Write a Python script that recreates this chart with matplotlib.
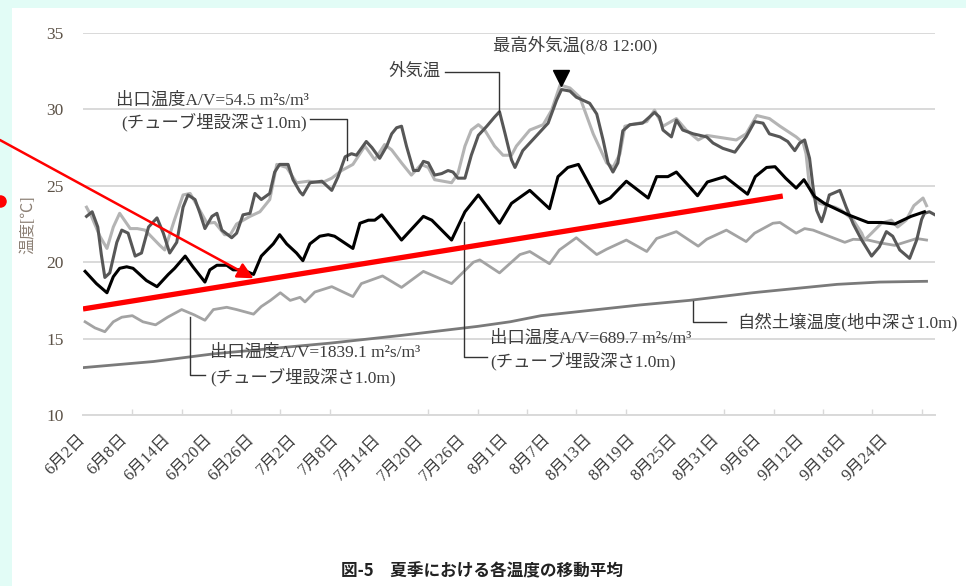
"""
夏季における各温度の移動平均 (図-5) の再現。
x は 6/2 からの経過日数、y は温度[℃]。
"""

import matplotlib
matplotlib.use("Agg")
import matplotlib.pyplot as plt
from matplotlib.lines import Line2D
from matplotlib.patches import Rectangle
from matplotlib.ticker import MultipleLocator

plt.rcParams["font.family"] = ["Liberation Serif", "Noto Sans CJK JP"]

# --- data (days since 6/2, °C) ---
# 外気温
oa_day = [0.5, 1.3, 2.1, 2.6, 3.1, 3.8, 4.8, 5.5, 6.4, 7.4, 8.3, 9.3, 10.5, 11.4, 12.3,
          13.3, 14.2, 14.9, 15.9, 16.6, 17.3, 18.3, 19.0, 19.7, 21.1, 21.8, 22.7, 23.7,
          24.4, 25.3, 26.5, 27.2, 27.9, 29.1, 29.8, 30.8, 31.2, 32.2, 33.9, 35.3, 36.2,
          37.2, 38.1, 38.8, 40.2, 41.0, 42.1, 43.1, 43.8, 44.5, 45.2, 45.9, 46.9, 47.6,
          48.3, 49.0, 49.9, 50.9, 51.8, 52.5, 53.2, 54.2, 55.1, 56.1, 57.3, 58.4, 59.1,
          59.9, 60.8, 61.3, 62.4, 63.8, 66.0, 67.2, 67.9, 69.1, 70.0, 71.9, 72.9, 73.8,
          74.5, 75.2, 75.9, 76.6, 77.6, 79.4, 81.1, 81.8, 82.3, 83.5, 84.2, 85.1, 86.6,
          88.5, 89.4, 90.8, 92.5, 94.1, 95.3, 96.5, 97.4, 98.9, 100.0, 101.0, 101.7,
          102.4, 103.1, 103.6, 104.1, 104.8, 105.2, 105.9, 107.4, 108.3, 109.3, 110.5,
          111.9, 113.0, 114.0, 114.9, 115.9, 117.3, 118.3, 119.0, 119.4, 120.1, 120.9]
oa_temp = [23.0, 23.3, 22.3, 20.5, 19.0, 19.3, 21.3, 22.1, 21.9, 20.4, 20.6, 22.3, 22.9,
           21.9, 20.6, 21.3, 23.6, 24.4, 24.1, 23.2, 22.2, 23.0, 23.2, 22.1, 21.6, 21.9,
           23.1, 23.2, 24.5, 24.1, 24.5, 25.9, 26.4, 26.4, 25.4, 24.6, 24.4, 25.2, 25.3,
           24.7, 25.6, 26.9, 27.1, 27.0, 27.9, 27.5, 26.8, 27.6, 28.4, 28.8, 28.9, 27.6,
           26.0, 26.0, 26.6, 26.5, 25.7, 25.8, 26.0, 25.9, 25.5, 25.5, 27.0, 28.3, 28.9,
           29.5, 29.85, 28.4, 26.7, 26.2, 27.3, 28.0, 29.1, 30.6, 31.3, 31.2, 30.8, 30.4,
           29.7, 28.0, 26.5, 25.9, 26.5, 28.6, 29.0, 29.1, 29.8, 29.5, 28.65, 28.2, 29.3,
           28.65, 28.4, 28.2, 27.8, 27.45, 27.2, 28.2, 29.2, 29.1, 28.4, 28.2, 27.9, 27.3,
           27.8, 28.0, 26.8, 24.9, 23.4, 22.65, 23.2, 24.4, 24.7, 23.6, 22.5, 21.45, 20.4,
           21.0, 22.0, 21.7, 20.8, 20.25, 21.45, 22.8, 23.2, 23.3, 23.1]

# 出口温度 A/V=54.5
av54_day = [0.5, 1.2, 2.4, 3.4, 4.3, 5.2, 6.7, 7.7, 8.8, 10.9, 11.6, 13.0, 14.2, 15.2,
            16.2, 17.6, 18.7, 20.1, 20.9, 21.8, 23.7, 25.1, 26.5, 27.5, 28.9, 30.3, 32.0,
            33.9, 35.3, 36.7, 38.3, 40.0, 41.4, 42.8, 43.8, 45.2, 46.6, 48.0, 49.0, 49.9,
            52.3, 53.2, 54.2, 55.1, 56.1, 57.0, 58.4, 59.6, 60.8, 61.5, 63.4, 65.3, 66.5,
            67.7, 69.1, 70.5, 72.4, 74.3, 75.2, 76.2, 76.9, 77.8, 80.0, 81.1, 82.3, 84.2,
            85.6, 87.3, 88.5, 91.3, 92.7, 94.1, 95.6, 97.4, 98.9, 101.2, 102.2, 102.6,
            103.1, 103.6, 104.5, 106.7, 107.6, 109.3, 110.5, 110.9, 111.9, 113.3, 114.7,
            115.6, 116.8, 117.9, 119.2, 119.7]
av54_temp = [23.6, 23.0, 21.7, 20.9, 22.3, 23.2, 22.2, 22.2, 22.1, 21.1, 20.8, 22.8, 24.4,
             24.5, 23.7, 22.55, 22.6, 21.8, 21.8, 22.5, 23.0, 23.3, 24.1, 26.4, 26.2, 25.2,
             25.3, 25.2, 25.5, 26.0, 26.4, 27.6, 26.7, 27.7, 27.35, 26.5, 25.7, 26.4, 26.2,
             25.4, 25.2, 25.8, 27.6, 28.65, 29.0, 28.65, 27.6, 27.0, 27.0, 27.6, 28.65,
             29.0, 29.95, 31.6, 31.4, 30.8, 28.4, 26.5, 26.2, 27.1, 28.9, 29.0, 29.2, 29.95,
             28.9, 29.4, 28.65, 28.0, 28.3, 28.1, 28.0, 28.4, 29.6, 29.4, 28.9, 28.2, 27.8,
             27.1, 24.9, 24.3, 23.85, 23.6, 23.4, 22.75, 21.9, 21.45, 21.9, 22.55, 22.75,
             22.3, 22.75, 23.7, 24.2, 23.7]

# 出口温度 A/V=689.7
av689_day = [0.3, 1.9, 3.4, 4.3, 5.2, 6.2, 7.1, 9.0, 10.5, 12.1, 13.0, 14.5, 15.6, 17.3,
             18.0, 19.0, 20.4, 21.3, 22.7, 24.2, 25.3, 27.0, 27.9, 28.9, 30.3, 31.2, 32.2,
             33.6, 34.8, 35.7, 38.3, 39.3, 40.5, 41.4, 42.4, 45.2, 48.3, 49.5, 52.3, 54.2,
             56.1, 59.1, 60.8, 63.4, 66.2, 67.4, 68.8, 70.3, 73.3, 74.8, 77.1, 80.2, 81.4,
             83.0, 84.2, 87.2, 88.6, 91.1, 94.3, 95.4, 97.0, 98.2, 99.7, 101.2, 102.3,
             103.8, 105.2, 108.6, 111.4, 113.3, 115.2, 117.5, 119.4]
av689_temp = [19.4, 18.6, 18.0, 19.05, 19.6, 19.7, 19.6, 18.8, 18.4, 19.2, 19.6, 20.4,
              19.7, 18.7, 19.5, 19.8, 19.8, 19.5, 19.5, 19.2, 20.4, 21.2, 21.8, 21.2, 20.6,
              20.1, 21.2, 21.7, 21.8, 21.7, 20.9, 22.55, 22.75, 22.75, 23.1, 21.45, 23.0,
              22.75, 21.45, 23.3, 24.4, 22.55, 23.85, 24.7, 23.5, 25.6, 26.2, 26.4, 23.85,
              24.2, 25.3, 24.2, 25.6, 25.6, 25.9, 24.35, 25.25, 25.6, 24.45, 25.6, 26.2,
              26.25, 25.5, 24.85, 25.4, 24.3, 23.85, 23.1, 22.6, 22.6, 22.5, 23.0, 23.3]

# 出口温度 A/V=1839.1
av1839_day = [0.3, 1.7, 3.1, 4.3, 5.5, 7.0, 8.5, 10.3, 12.0, 14.0, 15.8, 17.3, 18.5, 20.4,
              21.8, 24.2, 25.3, 26.6, 28.0, 29.4, 30.8, 31.5, 32.9, 35.3, 38.3, 39.5, 42.5,
              45.2, 48.3, 52.3, 55.4, 56.3, 59.1, 62.0, 63.4, 66.2, 67.6, 70.0, 72.9, 74.3,
              77.1, 80.0, 81.4, 84.2, 87.3, 88.5, 91.3, 94.1, 95.3, 97.9, 98.9, 101.2, 102.4,
              103.6, 108.1, 109.3, 111.4, 113.3, 115.2, 118.3, 119.7]
av1839_temp = [16.1, 15.7, 15.45, 16.1, 16.4, 16.5, 16.1, 15.9, 16.4, 16.9, 16.55, 16.2,
               16.9, 17.05, 16.9, 16.6, 17.1, 17.5, 18.0, 17.5, 17.7, 17.4, 18.05, 18.4,
               17.75, 18.6, 19.1, 18.35, 19.4, 18.6, 20.0, 20.15, 19.3, 20.5, 20.7, 19.9,
               20.8, 21.6, 20.5, 20.85, 21.45, 20.7, 21.55, 22.0, 21.05, 21.5, 22.1, 21.35,
               21.9, 22.55, 22.6, 21.9, 22.2, 22.1, 21.3, 21.5, 21.45, 21.25, 21.1, 21.55,
               21.45]

# 自然土壌温度
soil_day = [0.0, 10.0, 18.5, 35.0, 45.0, 56.0, 60.6, 65.0, 79.0, 86.0, 95.0, 107.0, 113.0,
            119.7]
soil_temp = [13.1, 13.5, 14.0, 14.7, 15.2, 15.8, 16.1, 16.5, 17.2, 17.5, 18.0, 18.55,
             18.7, 18.75]

# x tick labels (every 6 days from 6/2)
label_days = [0, 6, 12, 18, 24, 30, 36, 42, 48, 54, 60, 66, 72, 78, 84, 90, 96, 102, 108, 114]
label_text = ["6月2日", "6月8日", "6月14日", "6月20日", "6月26日", "7月2日", "7月8日",
              "7月14日", "7月20日", "7月26日", "8月1日", "8月7日", "8月13日", "8月19日",
              "8月25日", "8月31日", "9月6日", "9月12日", "9月18日", "9月24日"]

# max outdoor temperature marker (8/8 12:00)
peak_day = 67.8
peak_temp = 32.05

# red overlay: trend line and arrow
trend_day = [0.0, 99.3]
trend_temp = [16.94, 24.33]
arrow_tail = (-11.8, 28.0)
arrow_head = (24.2, 18.95)

W, H = 966, 586
TXT = "#3d3d3d"
GRID = "#d9d9d9"

fig = plt.figure(figsize=(W / 100, H / 100), dpi=100, facecolor="#e2fcf6")
fig.patches.append(Rectangle((12 / W, 0), 1, 1 - 8 / H, transform=fig.transFigure,
                             facecolor="white", edgecolor="none", zorder=-5))

ax = fig.add_axes([83 / W, 1 - 415 / H, (935 - 83) / W, (415 - 33) / H])
ax.set_facecolor("white")

ax.plot(soil_day, soil_temp, color="#7a7a7a", lw=2.0, zorder=3)
ax.plot(av1839_day, av1839_temp, color="#a3a3a3", lw=2.0, zorder=3)
ax.plot(av54_day, av54_temp, color="#b4b4b4", lw=2.2, zorder=4)
ax.plot(oa_day, oa_temp, color="#575757", lw=2.2, zorder=5)
ax.plot(av689_day, av689_temp, color="black", lw=2.2, zorder=6)

ax.plot([peak_day], [peak_temp], marker="v", color="black", ms=11, zorder=7, clip_on=False)

ax.set_xlim(0, 120.9)
ax.set_ylim(10, 35)
ax.yaxis.set_major_locator(MultipleLocator(5))
ax.grid(axis="y", color=GRID, lw=1.4, zorder=1)
ax.set_axisbelow(True)
for s in ["top", "right", "left"]:
    ax.spines[s].set_visible(False)
ax.spines["bottom"].set_color(GRID)
ax.spines["bottom"].set_linewidth(1.4)

ax.set_xticks(label_days)
ax.set_xticklabels(label_text, rotation=45, ha="right", va="center",
                   rotation_mode="anchor", fontsize=12, color=TXT)
ax.xaxis.set_minor_locator(MultipleLocator(7))
ax.tick_params(axis="x", which="major", length=0, pad=16)
ax.tick_params(axis="x", which="minor", direction="in", length=4, width=1, color=GRID)
ax.tick_params(axis="y", length=0, pad=14, labelsize=12.5, labelcolor="#5c5247")

fig.text(28 / W, 1 - 225 / H, "温度[℃]", rotation=90, ha="center", va="center",
         fontsize=11.5, color="#8c8075")

# annotations and leader lines
kw = dict(fontsize=12.5, color=TXT, zorder=8)
lk = dict(color="#333333", lw=1.0, zorder=8)

ax.text(18.4, 30.6, "出口温度A/V=54.5 m²s/m³", ha="center", va="center", **kw)
ax.text(31.8, 29.2, "(チューブ埋設深さ1.0m)", ha="right", va="center", **kw)
ax.plot([32.2, 37.4, 37.4], [29.4, 29.4, 26.7], **lk)

ax.text(50.8, 32.45, "外気温", ha="right", va="center", **kw)
ax.plot([51.3, 59.1, 59.1], [32.45, 32.45, 29.8], **lk)

ax.text(69.8, 34.2, "最高外気温(8/8 12:00)", ha="center", va="center", **kw)

ax.text(18.0, 14.1, "出口温度A/V=1839.1 m²s/m³", ha="left", va="center", **kw)
ax.text(18.0, 12.5, "(チューブ埋設深さ1.0m)", ha="left", va="center", **kw)
ax.plot([15.2, 15.2, 17.3], [16.4, 12.6, 12.6], **lk)

ax.text(57.8, 15.0, "出口温度A/V=689.7 m²s/m³", ha="left", va="center", **kw)
ax.text(57.8, 13.55, "(チューブ埋設深さ1.0m)", ha="left", va="center", **kw)
ax.plot([54.0, 54.0, 57.3], [22.65, 13.8, 13.8], **lk)

ax.text(92.8, 16.1, "自然土壌温度(地中深さ1.0m)", ha="left", va="center",
        clip_on=False, **kw)
ax.plot([86.5, 86.5, 91.3], [17.45, 16.1, 16.1], **lk)

# red overlay
ax.plot(trend_day, trend_temp, color="#ff0000", lw=3.8, zorder=9, solid_capstyle="butt")
ax.annotate("", xy=arrow_head, xytext=arrow_tail, xycoords="data", textcoords="data",
            annotation_clip=False, zorder=9,
            arrowprops=dict(arrowstyle="-|>", color="#ff0000", lw=1.8, mutation_scale=24,
                            shrinkA=0, shrinkB=0))
fig.add_artist(Line2D([0], [1 - 201 / H], marker="o", ms=8, color="#ff0000",
                      transform=fig.transFigure, clip_on=False))

fig.text(482 / W, 1 - 571 / H, "図-5　夏季における各温度の移動平均", ha="center",
         va="center", fontsize=12, fontweight="bold", family="Noto Sans CJK JP",
         color="#222222")

fig.savefig("out.png", dpi=100, facecolor=fig.get_facecolor())
